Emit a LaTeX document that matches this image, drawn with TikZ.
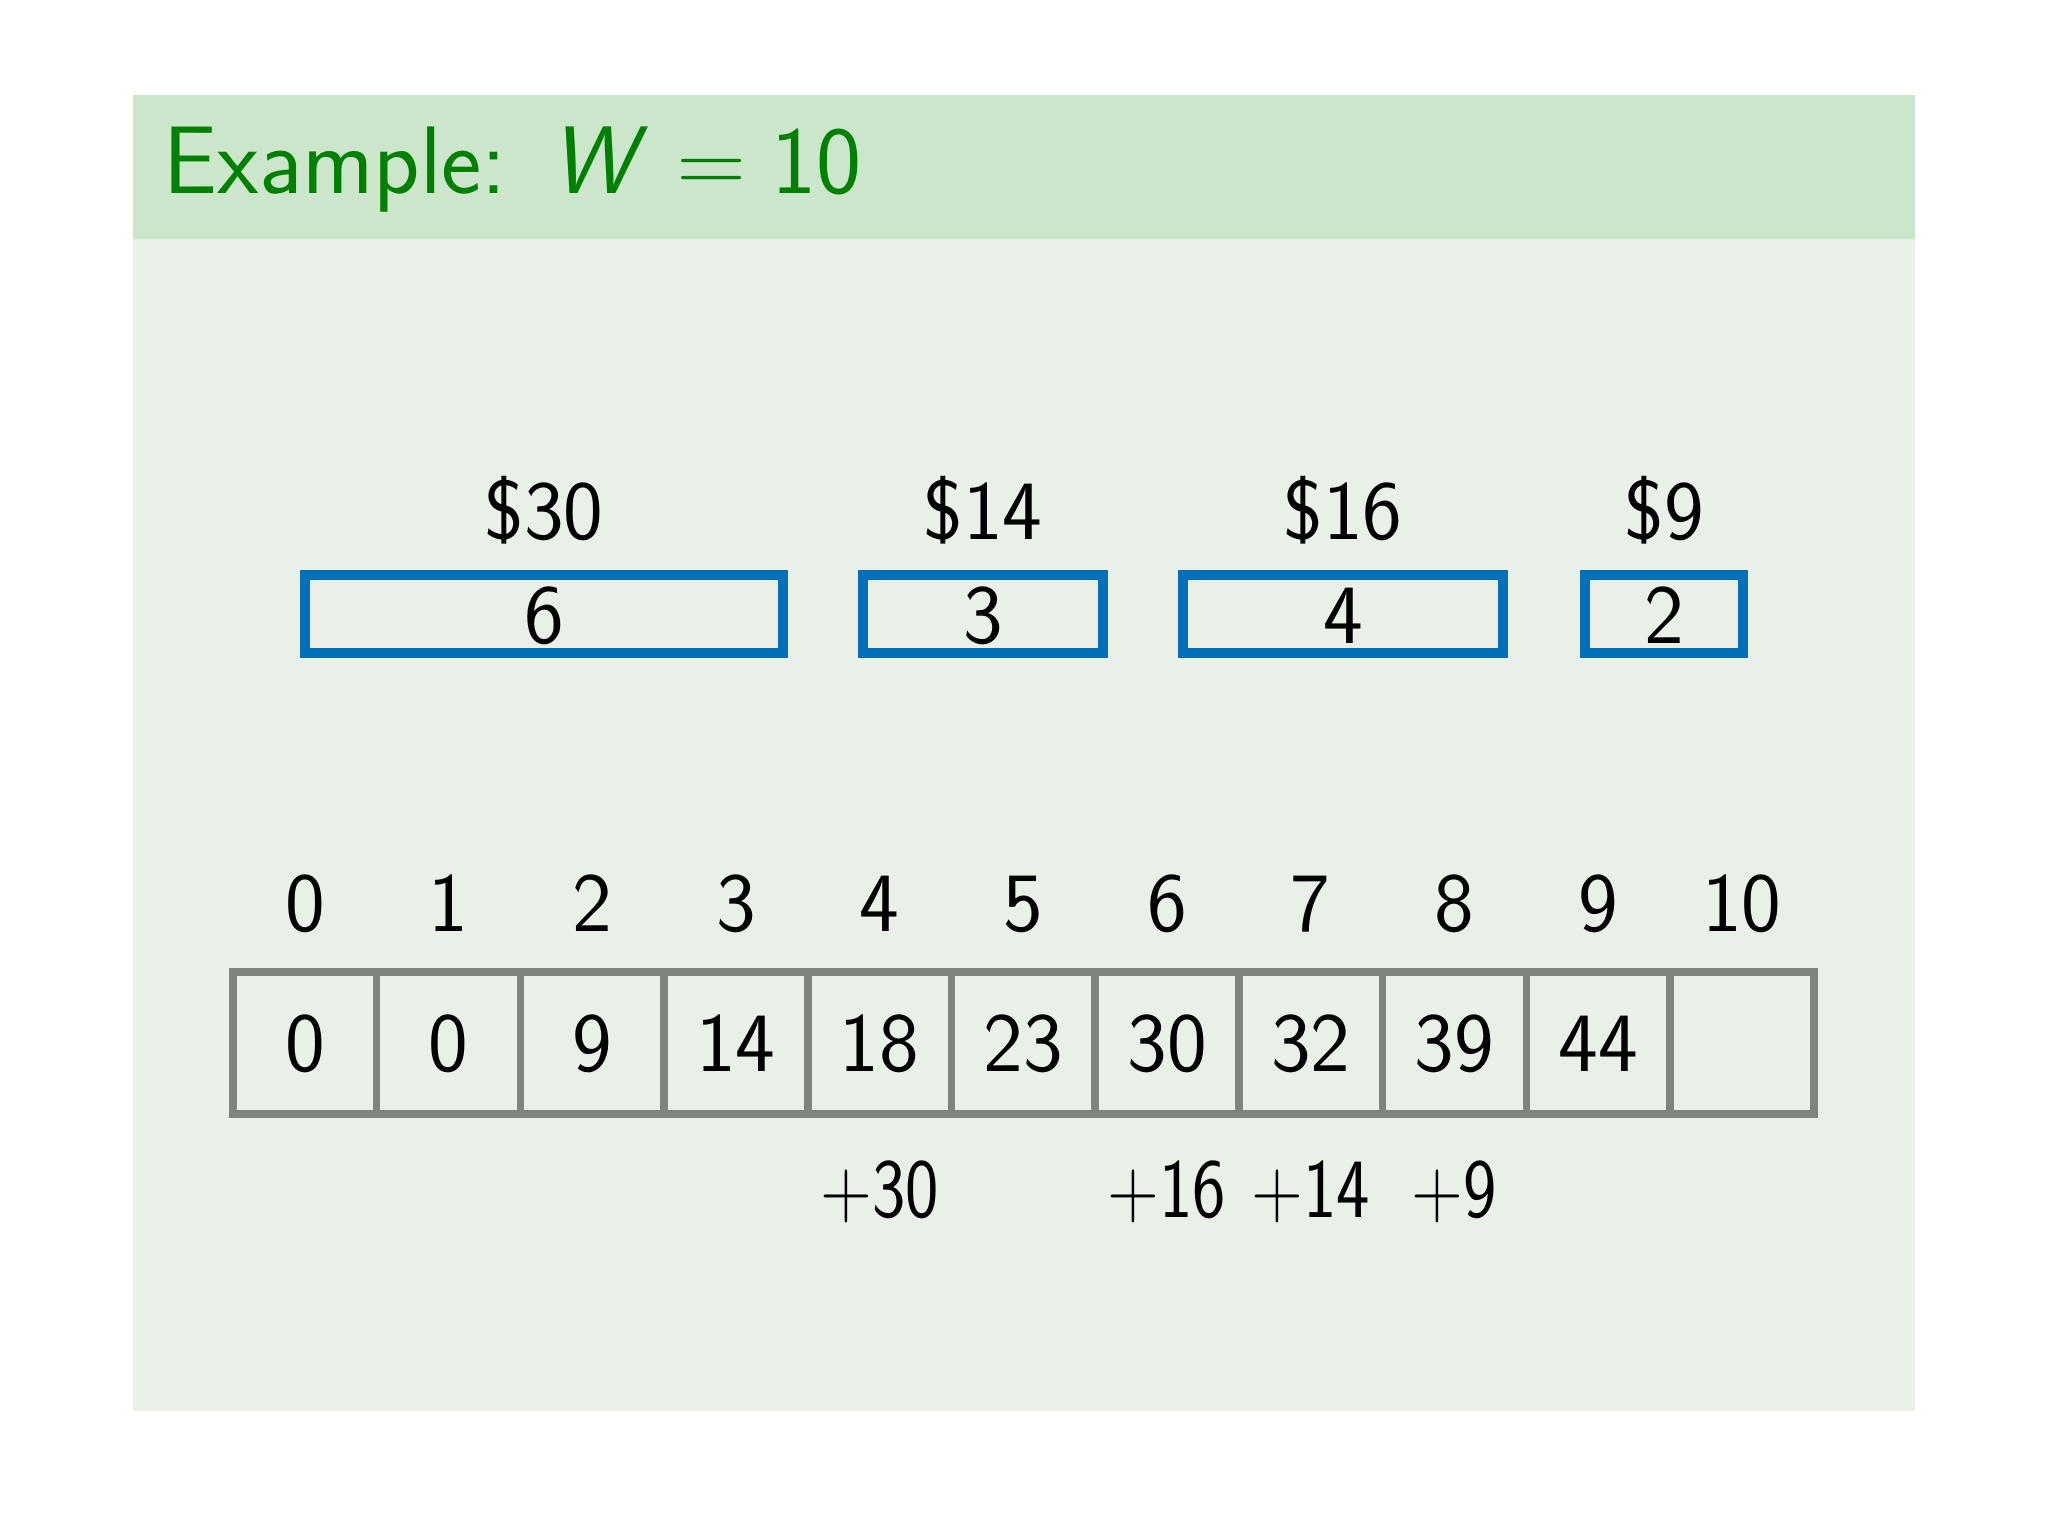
\documentclass[tikz,border=0pt]{standalone}
\usepackage{fontspec}
\usepackage{graphicx}
\definecolor{exgreen}{RGB}{0,128,0}
\definecolor{titlebg}{RGB}{204,230,204}
\definecolor{bodybg}{RGB}{232,240,232}
\definecolor{itemblue}{RGB}{0,112,184}
\definecolor{cellgray}{RGB}{128,132,126}
\newcommand\narrowtxt[1]{\scalebox{0.84}[1]{#1}}
\tikzset{
  num/.style={font=\sffamily\fontsize{24}{28}\selectfont, inner sep=0pt, text=black},
  itembox/.style={draw=itemblue, line width=0.10cm, minimum height=0.78cm, inner sep=0pt},
  cell/.style={draw=cellgray, line width=0.075cm, minimum width=1.437cm, minimum height=1.42cm, inner sep=0pt},
}
\begin{document}
\begin{tikzpicture}[x=0.01cm,y=-0.01cm]
\useasboundingbox (0,0) rectangle (2048,1536);
\fill[white] (0,0) rectangle (2048,1536);
% frame
\fill[bodybg] (133,239) rectangle (1915,1411);
\fill[titlebg] (133,95) rectangle (1915,239);
\node[anchor=base west, inner sep=0pt, text=exgreen, font=\sffamily\fontsize{27.3}{32}\selectfont] (title) at (163,193) {Example:\hspace{0.45em}\textsl{W}\hspace{0.3em}=\hspace{0.25em}10};
% items
\node[itembox, minimum width=4.78cm] (b1) at (544,614) {};
\node[itembox, minimum width=2.39cm] (b2) at (983,614) {};
\node[itembox, minimum width=3.19cm] (b3) at (1343,614) {};
\node[itembox, minimum width=1.58cm] (b4) at (1664,614) {};
\node[num, anchor=base] (w1) at (544,643) {6};
\node[num, anchor=base] (w2) at (983,643) {3};
\node[num, anchor=base] (w3) at (1343,643) {4};
\node[num, anchor=base] (w4) at (1664,643) {2};
\node[num, anchor=base] (v1) at (544,539) {\$30};
\node[num, anchor=base] (v2) at (983,539) {\$14};
\node[num, anchor=base] (v3) at (1343,539) {\$16};
\node[num, anchor=base] (v4) at (1664,539) {\$9};
% table
\foreach \k/\v in {0/0,1/0,2/9,3/14,4/18,5/23,6/30,7/32,8/39,9/44,10/{}} {
  \node[cell] (c\k) at ({233+143.7*(\k+0.5)},1043) {};
  \node[num, anchor=base] (t\k) at ({233+143.7*(\k+0.5)},1071) {\v};
  \node[num, anchor=base] (i\k) at ({233+143.7*(\k+0.5)},931) {\k};
}
\node[num, anchor=base] (p4) at ({233+143.7*4.5},1217) {\narrowtxt{+30}};
\node[num, anchor=base] (p6) at ({233+143.7*6.5},1217) {\narrowtxt{+16}};
\node[num, anchor=base] (p7) at ({233+143.7*7.5},1217) {\narrowtxt{+14}};
\node[num, anchor=base] (p8) at ({233+143.7*8.5},1217) {\narrowtxt{+9}};
\end{tikzpicture}
\end{document}
